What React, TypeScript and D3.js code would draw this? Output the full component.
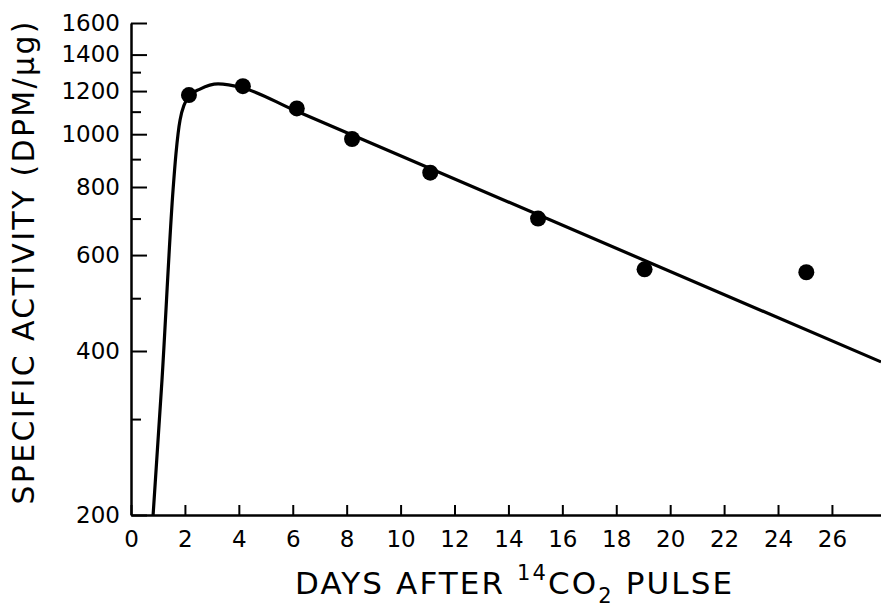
import React, { useEffect, useRef } from 'react';
import * as d3 from 'd3';

const width = 881;
const height = 609;

// measured specific activity points
const pointDays = [2.15, 4.15, 6.15, 8.2, 11.1, 15.1, 19.05, 25.05];
const pointValues = [1180, 1225, 1115, 980, 850, 700, 565, 558];

// hand-drawn fitted curve
const curveDays = [0.82, 1.15, 1.56, 1.67, 1.82, 2.15, 2.56, 3.23, 4.15, 6, 27.82];
const curveValues = [200, 354, 790, 923, 1062, 1175, 1210, 1237, 1216, 1110, 382];

const xTicks = [0, 2, 4, 6, 8, 10, 12, 14, 16, 18, 20, 22, 24, 26];
const yTicks = [200, 400, 600, 800, 1000, 1200, 1400, 1600];
const yMinorTicks = [300, 500, 700, 900, 1100, 1300];

const fontFamily = '"DejaVu Sans", "Liberation Sans", Arial, sans-serif';

function App() {
  const ref = useRef<SVGSVGElement>(null);

  useEffect(() => {
    const svg = d3.select(ref.current);
    svg.selectAll('*').remove();

    const x = d3.scaleLinear().domain([0, 27.82]).range([131, 881]);
    const y = d3.scaleLog().domain([200, 1600]).range([515, 23]);

    // x axis, ticks pointing inwards
    const xAxis = svg.append('g')
      .attr('transform', `translate(0,${y(200)})`)
      .call(
        d3.axisBottom(x)
          .tickValues(xTicks)
          .tickSize(-10)
          .tickSizeOuter(0)
          .tickPadding(16)
          .tickFormat(d3.format('d'))
      );
    xAxis.select('.domain').attr('stroke-width', 2.5);
    xAxis.selectAll('.tick line').attr('stroke-width', 2);
    xAxis.selectAll('.tick text')
      .attr('font-size', 23)
      .attr('font-family', fontFamily)
      .attr('fill', '#000');

    // y axis, major ticks
    const yAxis = svg.append('g')
      .attr('transform', `translate(${x(0)},0)`)
      .call(
        d3.axisLeft(y)
          .tickValues(yTicks)
          .tickSize(-16)
          .tickSizeOuter(0)
          .tickPadding(11)
          .tickFormat(d3.format('d'))
      );
    yAxis.select('.domain').attr('stroke-width', 2.5);
    yAxis.selectAll('.tick line').attr('stroke-width', 2);
    yAxis.selectAll('.tick text')
      .attr('font-size', 23)
      .attr('font-family', fontFamily)
      .attr('fill', '#000');

    // y axis, minor ticks
    const yMinor = svg.append('g')
      .attr('transform', `translate(${x(0)},0)`)
      .call(
        d3.axisLeft(y)
          .tickValues(yMinorTicks)
          .tickSize(-10)
          .tickSizeOuter(0)
          .tickFormat(() => '')
      );
    yMinor.select('.domain').remove();
    yMinor.selectAll('.tick line').attr('stroke-width', 2);

    // curve
    const curve = curveDays.map((d, i) => [d, curveValues[i]] as [number, number]);
    const line = d3.line<[number, number]>()
      .x(d => x(d[0]))
      .y(d => y(d[1]))
      .curve(d3.curveMonotoneX);
    svg.append('path')
      .datum(curve)
      .attr('d', line)
      .attr('fill', 'none')
      .attr('stroke', '#000')
      .attr('stroke-width', 3.2);

    // points
    svg.selectAll('circle.pt')
      .data(pointDays)
      .enter()
      .append('circle')
        .attr('class', 'pt')
        .attr('cx', d => x(d))
        .attr('cy', (d, i) => y(pointValues[i]))
        .attr('r', 8)
        .attr('fill', '#000');

    // x label
    const xl = svg.append('text')
      .attr('x', 295)
      .attr('y', 594)
      .attr('font-size', 31)
      .attr('font-family', fontFamily)
      .attr('textLength', 437)
      .attr('lengthAdjust', 'spacing')
      .attr('fill', '#000');
    xl.append('tspan').text('DAYS AFTER ');
    xl.append('tspan').attr('font-size', 21).attr('dy', -14).text('14');
    xl.append('tspan').attr('dy', 14).text('CO');
    xl.append('tspan').attr('font-size', 21).attr('dy', 9).text('2');
    xl.append('tspan').attr('dy', -9).text(' PULSE');

    // y label
    svg.append('text')
      .attr('transform', 'translate(34,263) rotate(-90)')
      .attr('text-anchor', 'middle')
      .attr('font-size', 30)
      .attr('font-family', fontFamily)
      .attr('textLength', 483)
      .attr('lengthAdjust', 'spacing')
      .attr('fill', '#000')
      .text('SPECIFIC ACTIVITY (DPM/μg)');
  }, []);

  return (
    <svg
      ref={ref}
      width={width}
      height={height}
      style={{ position: 'absolute', left: 0, top: 0, background: '#fff' }}
    />
  );
}

export default App;
